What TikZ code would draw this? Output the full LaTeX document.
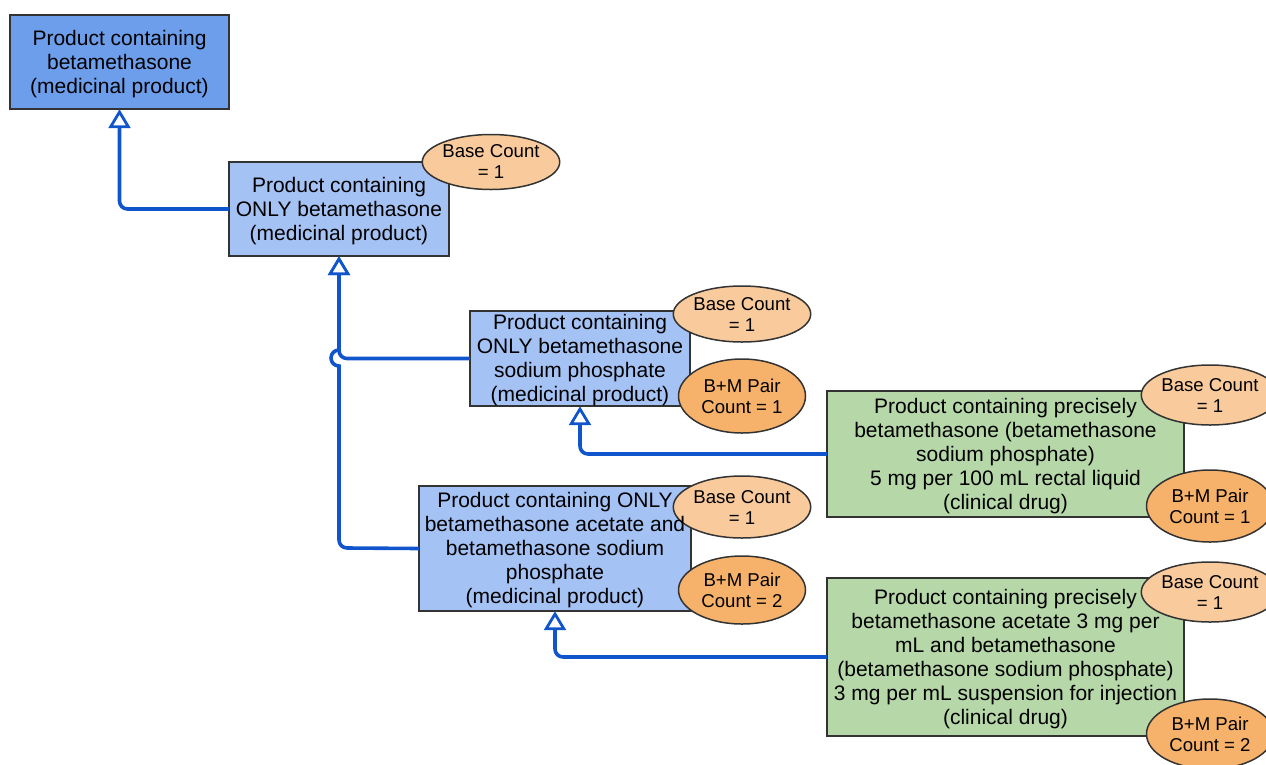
\documentclass[tikz,border=0pt]{standalone}
\usepackage{fontspec}
\setmainfont{Liberation Sans}
\usetikzlibrary{arrows.meta,shapes.geometric}
\definecolor{linec}{HTML}{1155CC}
\definecolor{bdark}{HTML}{6D9EEB}
\definecolor{blight}{HTML}{A4C2F4}
\definecolor{gfill}{HTML}{B6D7A8}
\definecolor{olight}{HTML}{F9CB9C}
\definecolor{odark}{HTML}{F6B26B}
\definecolor{edge}{HTML}{333333}
\pgfdeclarelayer{bg}
\pgfdeclarelayer{mid}
\pgfsetlayers{bg,mid,main}
\begin{document}
\begin{tikzpicture}[x=1pt,y=-1pt,
  box/.style={rectangle, inner sep=0pt, align=center,
    font=\fontsize{21}{24}\selectfont},
  frame/.style={draw=edge, line width=1.5pt},
  oval/.style={draw=edge, line width=1.5pt, ellipse, inner sep=0pt, align=center,
    font=\fontsize{18.6}{21}\selectfont, minimum width=127pt},
  conn/.style={draw=linec, line width=3.6pt,
    -{Triangle[open, length=19pt, width=22pt, line width=2.8pt, fill=white]}}]
\useasboundingbox (0,0) rectangle (1266,764);

% boxes (text); frames are drawn 2pt higher than the text centre
\node[box, minimum width=219pt, minimum height=94pt] (b1) at (119.5,64)
  {Product containing\\betamethasone\\(medicinal product)};
\node[box, minimum width=220pt, minimum height=94pt] (b2) at (339,211)
  {Product containing\\ONLY betamethasone\\(medicinal product)};
\node[box, minimum width=220pt, minimum height=95pt] (b3) at (580,360.5)
  {Product containing\\ONLY betamethasone\\sodium phosphate\\(medicinal product)};
\node[box, minimum width=272pt, minimum height=125pt] (b4) at (555,550.5)
  {Product containing ONLY\\betamethasone acetate and\\betamethasone sodium\\phosphate\\(medicinal product)};
\node[box, minimum width=357pt, minimum height=126pt] (b5) at (1005.5,456)
  {Product containing precisely\\betamethasone (betamethasone\\sodium phosphate)\\5 mg per 100 mL rectal liquid\\(clinical drug)};
\node[box, minimum width=357pt, minimum height=158pt] (b6) at (1005.5,659)
  {Product containing precisely\\betamethasone acetate 3 mg per\\mL and betamethasone\\(betamethasone sodium phosphate)\\3 mg per mL suspension for injection\\(clinical drug)};

% box frames
\begin{pgfonlayer}{bg}
\path[frame, fill=bdark] ([yshift=2pt]b1.south west) rectangle ([yshift=2pt]b1.north east);
\path[frame, fill=blight] ([yshift=2pt]b2.south west) rectangle ([yshift=2pt]b2.north east);
\path[frame, fill=blight] ([yshift=2pt]b3.south west) rectangle ([yshift=2pt]b3.north east);
\path[frame, fill=blight] ([yshift=2pt]b4.south west) rectangle ([yshift=2pt]b4.north east);
\path[frame, fill=gfill] ([yshift=2pt]b5.south west) rectangle ([yshift=2pt]b5.north east);
\path[frame, fill=gfill] ([yshift=2pt]b6.south west) rectangle ([yshift=2pt]b6.north east);
\end{pgfonlayer}

% connectors
\draw[conn, rounded corners=8pt] ([yshift=2pt]b2.west) -| ([yshift=2pt]b1.south);
\draw[conn, rounded corners=8pt] ([yshift=2pt]b3.west) -| ([yshift=2pt]b2.south);
\draw[conn] ([yshift=2pt]b4.west) -- (347,548) arc[start angle=90, end angle=180, radius=8]
  -- (339,366) arc[start angle=90, end angle=270, radius=8] -- ([yshift=2pt]b2.south);
\draw[conn, rounded corners=8pt] ([yshift=2pt]b5.west) -| ([yshift=2pt]b3.south);
\draw[conn, rounded corners=8pt] ([yshift=2pt]b6.west) -| ([yshift=2pt]b4.south);

% ovals
\begin{pgfonlayer}{mid}
\node[oval, fill=olight, minimum height=55pt] (e2) at (491,162) {Base Count\\= 1};
\node[oval, fill=olight, minimum height=56pt] (e3a) at (742,314) {Base Count\\= 1};
\node[oval, fill=odark, minimum height=74pt] (e3b) at (742,396) {B+M Pair\\Count = 1};
\node[oval, fill=olight, minimum height=62pt] (e4a) at (742,507) {Base Count\\= 1};
\node[oval, fill=odark, minimum height=68pt] (e4b) at (742,590) {B+M Pair\\Count = 2};
\node[oval, fill=olight, minimum height=60pt] (e5a) at (1210,395) {Base Count\\= 1};
\node[oval, fill=odark, minimum height=72pt] (e5b) at (1210,506) {B+M Pair\\Count = 1};
\node[oval, fill=olight, minimum height=60pt] (e6a) at (1210,592) {Base Count\\= 1};
\node[oval, fill=odark, minimum height=70pt] (e6b) at (1210,734) {B+M Pair\\Count = 2};
\end{pgfonlayer}
\end{tikzpicture}
\end{document}
